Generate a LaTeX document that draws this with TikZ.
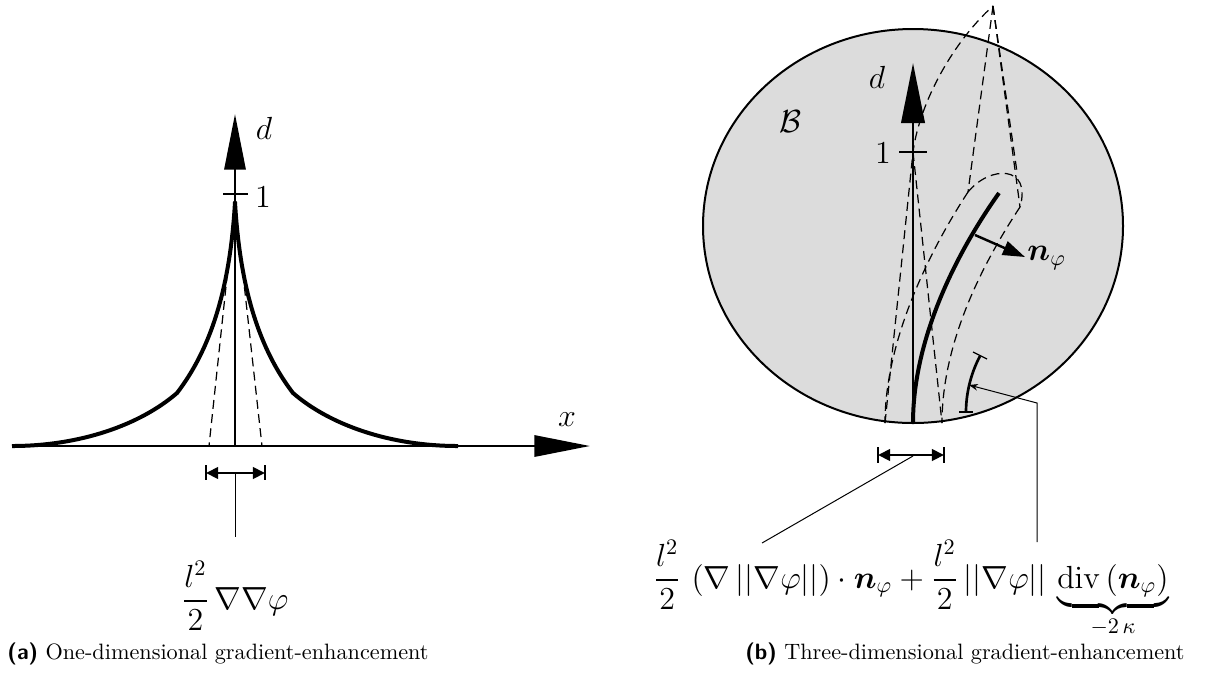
\documentclass[tikz,border=0pt]{standalone}
\usepackage{amsmath,amssymb,bm}
\usetikzlibrary{arrows.meta}
\definecolor{bodygray}{RGB}{220,220,220}
\begin{document}
\begin{tikzpicture}[x=0.45pt,y=-0.45pt,
  axisarrow/.style={line width=1.2pt,-{Triangle[length=25pt,width=9.5pt]}},
  bigcurve/.style={line width=1.8pt,line join=round},
  dashline/.style={line width=0.55pt,dash pattern=on 4pt off 2.4pt},
  dimline/.style={line width=1.3pt,{Triangle[length=5.5pt,width=5.2pt]}-{Triangle[length=5.5pt,width=5.2pt]}},
  barline/.style={line width=0.6pt},
  leader/.style={line width=0.45pt},
  lbl/.style={inner sep=0pt,font=\Large}]
\useasboundingbox (0,0) rectangle (1210,673);
% ---------------- (a) ----------------
\coordinate (xs) at (12,446);
\coordinate (xe) at (590,446);
\coordinate (o1) at (235,446);
\coordinate (ye) at (235,114);
\coordinate (pk) at (235,202);
\draw[axisarrow] (xs) -- (xe);
\draw[axisarrow] (o1) -- (ye);
\draw[line width=1.2pt] (223,194) coordinate (t1a) -- (248,194) coordinate (t1b);
\node[lbl] (dA) at (264,128) {$d$};
\node[lbl] (oneA) at (263,197) {$1$};
\node[lbl] (xA) at (567,420) {$x$};
\draw[bigcurve] (xs) .. controls (80,446) and (140,425) .. (177,393)
  .. controls (210,350) and (230,290) .. (pk)
  .. controls (240,290) and (260,350) .. (293,393)
  .. controls (330,425) and (390,446) .. (458,446);
\coordinate (dlA) at (209,446);
\coordinate (drA) at (262,446);
\draw[dashline] (pk) -- (dlA);
\draw[dashline] (pk) -- (drA);
\coordinate (ma) at (206,473);
\coordinate (mb) at (265,473);
\coordinate (mc) at (235,473);
\draw[dimline] (ma) -- (mb);
\draw[barline] (206,465) -- (206,480);
\draw[barline] (265,465) -- (265,480);
\node[anchor=base,font=\Large] (fA) at (235,609) {$\dfrac{l^2}{2}\,\nabla\nabla\varphi$};
\draw[leader] (mc) -- (235,537) coordinate (lA);
\node[anchor=base] (capA) at (218,659) {\textsf{\textbf{(a)}} One-dimensional gradient-enhancement};
% ---------------- (b) ----------------
\draw[fill=bodygray,line width=0.9pt] (913,226) ellipse [x radius=210,y radius=197];
\coordinate (o2) at (913,423);
\coordinate (ye2) at (913,63);
\coordinate (pk2) at (913,152);
\coordinate (apex) at (993,6);
\coordinate (tipL) at (968,192);
\coordinate (tipR) at (1020,207);
\coordinate (capT) at (1017,172);
\coordinate (bL) at (885,423);
\coordinate (bR) at (942,423);
% dashed
\draw[dashline] (bL) -- (pk2) .. controls (920,100) and (955,40) .. (apex);
\draw[dashline] (pk2) -- (bR);
\draw[dashline] (apex) -- (tipL);
\draw[dashline] (apex) -- (capT);
\draw[dashline] (apex) -- (tipR);
\draw[dashline] (tipL) .. controls (930,250) and (885,340) .. (bL);
\draw[dashline] (tipR) .. controls (985,260) and (942,340) .. (bR);
\draw[dashline] (tipL) .. controls (990,165) and (1032,165) .. (tipR);
% axis
\draw[line width=1.2pt,-{Triangle[length=27pt,width=10.5pt]}] (o2) -- (ye2);
\draw[line width=1.2pt] (899,152) -- (927,152);
\node[lbl] (dB) at (877,77) {$d$};
\node[lbl] (oneB) at (883,153) {$1$};
\node[lbl] (BB) at (790,122) {$\mathcal{B}$};
% crack
\coordinate (ct) at (999,193);
\draw[bigcurve] (o2) .. controls (913,340) and (955,255) .. (ct);
\coordinate (ns) at (975,235);
\coordinate (ne) at (1025,257);
\draw[line width=1.1pt,-{Triangle[length=10pt,width=6.5pt]}] (ns) -- (ne);
\node[lbl,anchor=west] (nB) at (1027,258) {$\bm{n}_\varphi$};
% curvature
\coordinate (ka) at (980,356);
\coordinate (kb) at (966,412);
\draw[line width=1.2pt] (ka) .. controls (970,375) and (966,395) .. (kb);
\draw[barline] (973,352) -- (987,359);
\draw[barline] (959,412) -- (973,412);
\coordinate (kl) at (1037,403);
\coordinate (kf) at (1037,542);
\draw[leader,-{Stealth[length=4pt,width=3pt]}] (kf) -- (kl) -- (969,385);
% dimension
\coordinate (na) at (878,455);
\coordinate (nb) at (944,455);
\coordinate (nc) at (913,456);
\draw[dimline] (na) -- (nb);
\draw[barline] (878,447) -- (878,463);
\draw[barline] (944,447) -- (944,463);
\draw[leader] (nc) -- (762,543) coordinate (lB);
\node[anchor=base,font=\Large] (fB) at (911,588) {$\dfrac{l^2}{2}\,\left(\nabla\,||\nabla\varphi||\right)\cdot\bm{n}_\varphi+\dfrac{l^2}{2}\,||\nabla\varphi||\,\underbrace{\operatorname{div}\left(\bm{n}_\varphi\right)}_{-2\,\kappa}$};
\node[anchor=base] (capB) at (965,659) {\textsf{\textbf{(b)}} Three-dimensional gradient-enhancement};
\end{tikzpicture}
\end{document}
